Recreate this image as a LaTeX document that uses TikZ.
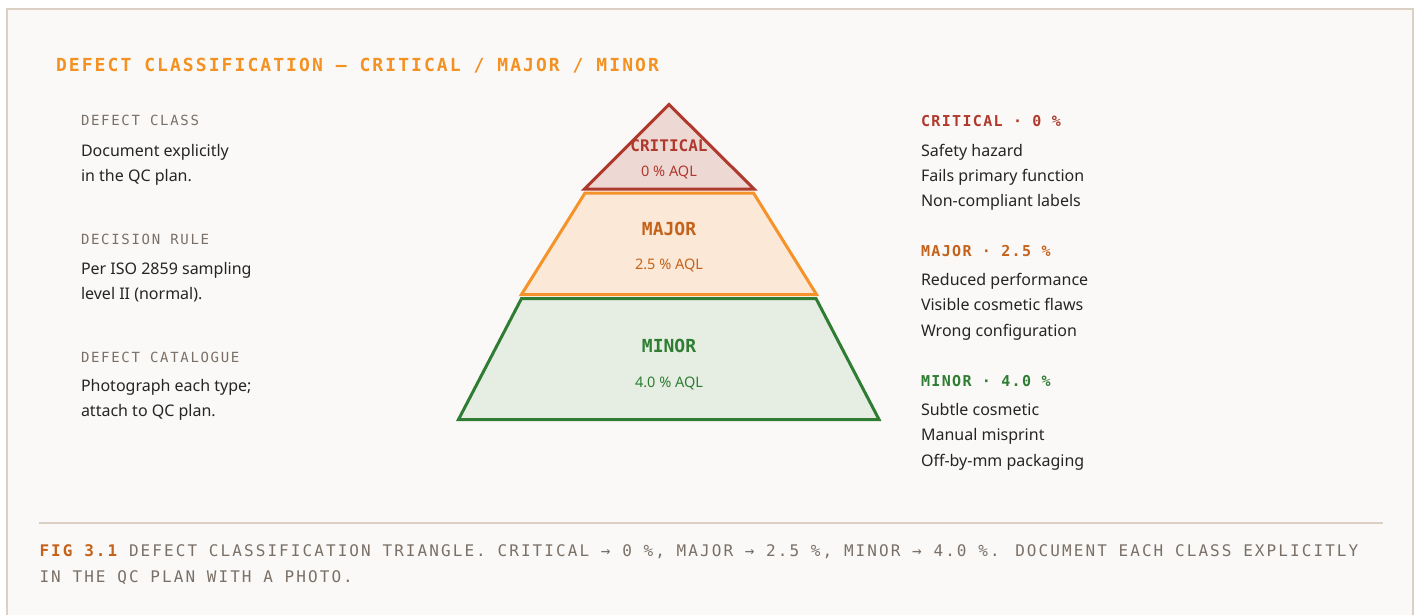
\documentclass[tikz,border=0pt]{standalone}
\usepackage{fontspec}
\setmainfont{Noto Sans}
\newfontfamily\monoplain{DejaVu Sans Mono}
\newfontfamily\monohead{DejaVu Sans Mono}[LetterSpace=11.5]
\newfontfamily\monolabel{DejaVu Sans Mono}[LetterSpace=12]
\newfontfamily\monoside{DejaVu Sans Mono}[LetterSpace=9]
\newfontfamily\monocap{DejaVu Sans Mono}[LetterSpace=13]

\definecolor{paper}{HTML}{FAF9F7}
\definecolor{rule}{HTML}{DAD0C3}
\definecolor{accent}{HTML}{F39223}
\definecolor{muted}{HTML}{7A7067}
\definecolor{ink}{HTML}{262523}
\definecolor{critred}{HTML}{B0392E}
\definecolor{critfill}{HTML}{EDD8D4}
\definecolor{majortext}{HTML}{C4621B}
\definecolor{majorline}{HTML}{F5932A}
\definecolor{majorfill}{HTML}{FCE8D6}
\definecolor{minorgreen}{HTML}{2E7D32}
\definecolor{minorfill}{HTML}{E6EEE3}

\tikzset{
  every node/.style={inner sep=0pt, outer sep=0pt},
  title/.style={anchor=base west, text=accent, font=\monohead\bfseries\fontsize{18}{18}\selectfont},
  sidelabel/.style={anchor=base west, text=muted, font=\monolabel\fontsize{14}{14}\selectfont},
  bodyline/.style={anchor=base west, text=ink, font=\fontsize{16}{16}\selectfont},
  classhead/.style={anchor=base west, font=\monoside\bfseries\fontsize{15}{15}\selectfont},
  tiername/.style={anchor=base, font=\monoplain\bfseries\fontsize{18}{18}\selectfont},
  tierrate/.style={anchor=base, font=\fontsize{14.5}{14.5}\selectfont},
  captionline/.style={anchor=base west, text=muted, font=\monocap\fontsize{16}{16}\selectfont},
  tier/.style={line width=3pt, line join=miter},
}

\begin{document}
\begin{tikzpicture}[x=1pt, y=-1pt]
\useasboundingbox (0,0) rectangle (1418,615);
\fill[white] (0,0) rectangle (1418,615);
\draw[rule, fill=paper, line width=2pt] (7,9) rectangle (1413,640);

% heading
\node[title] (title) at (56,71.5) {DEFECT CLASSIFICATION — CRITICAL / MAJOR / MINOR};

% left column: notes on the classification
\node[sidelabel] (lab-class) at (81,126) {DEFECT CLASS};
\node[bodyline] (class-1) at (81,156) {Document explicitly};
\node[bodyline] (class-2) at (81,181) {in the QC plan.};

\node[sidelabel] (lab-rule) at (81,244) {DECISION RULE};
\node[bodyline] (rule-1) at (81,274) {Per ISO 2859 sampling};
\node[bodyline] (rule-2) at (81,299) {level II (normal).};

\node[sidelabel] (lab-cat) at (81,362) {DEFECT CATALOGUE};
\node[bodyline] (cat-1) at (81,391.5) {Photograph each type;};
\node[bodyline] (cat-2) at (81,416.5) {attach to QC plan.};

% the three tiers
\coordinate (crit-top) at (669,104.5);
\coordinate (crit-bl) at (584.5,189);
\coordinate (crit-br) at (754,189);
\draw[tier, draw=critred, fill=critfill] (crit-top) -- (crit-br) -- (crit-bl) -- cycle;

\coordinate (maj-tl) at (585,193);
\coordinate (maj-tr) at (753.5,193);
\coordinate (maj-br) at (816.5,294.5);
\coordinate (maj-bl) at (521.5,294.5);
\draw[tier, draw=majorline, fill=majorfill] (maj-tl) -- (maj-tr) -- (maj-br) -- (maj-bl) -- cycle;

\coordinate (min-tl) at (521.5,298.5);
\coordinate (min-tr) at (816,298.5);
\coordinate (min-br) at (879,419.5);
\coordinate (min-bl) at (458.5,419.5);
\draw[tier, draw=minorgreen, fill=minorfill] (min-tl) -- (min-tr) -- (min-br) -- (min-bl) -- cycle;

\node[tiername, text=critred, font=\monoplain\bfseries\fontsize{16}{16}\selectfont] (crit-name) at (669,151.7) {CRITICAL};
\node[tierrate, text=critred] (crit-rate) at (669,176.7) {0 \% AQL};
\node[tiername, text=majortext] (maj-name) at (669,235.7) {MAJOR};
\node[tierrate, text=majortext] (maj-rate) at (669,269.3) {2.5 \% AQL};
\node[tiername, text=minorgreen] (min-name) at (669,352.7) {MINOR};
\node[tierrate, text=minorgreen] (min-rate) at (669,387) {4.0 \% AQL};

% right column: examples per class
\node[classhead, text=critred] (crit-head) at (921,126.5) {CRITICAL · 0 \%};
\node[bodyline] (crit-1) at (921,156) {Safety hazard};
\node[bodyline] (crit-2) at (921,181) {Fails primary function};
\node[bodyline] (crit-3) at (921,206) {Non-compliant labels};

\node[classhead, text=majortext] (maj-head) at (921,256.7) {MAJOR · 2.5 \%};
\node[bodyline] (maj-1) at (921,285.7) {Reduced performance};
\node[bodyline] (maj-2) at (921,310.7) {Visible cosmetic flaws};
\node[bodyline] (maj-3) at (921,336) {Wrong configuration};

\node[classhead, text=minorgreen] (min-head) at (921,386.7) {MINOR · 4.0 \%};
\node[bodyline] (min-1) at (921,415.7) {Subtle cosmetic};
\node[bodyline] (min-2) at (921,440.7) {Manual misprint};
\node[bodyline] (min-3) at (921,466) {Off-by-mm packaging};

% caption
\coordinate (sep-l) at (39,522.5);
\coordinate (sep-r) at (1383,522.5);
\draw[rule, line width=2pt] (sep-l) -- (sep-r);
\node[captionline] (cap-1) at (39.5,556.5) {{\color{majortext}\bfseries FIG 3.1} DEFECT CLASSIFICATION TRIANGLE. CRITICAL → 0 \%, MAJOR → 2.5 \%, MINOR → 4.0 \%. DOCUMENT EACH CLASS EXPLICITLY};
\node[captionline] (cap-2) at (39.5,582.5) {IN THE QC PLAN WITH A PHOTO.};
\end{tikzpicture}
\end{document}
